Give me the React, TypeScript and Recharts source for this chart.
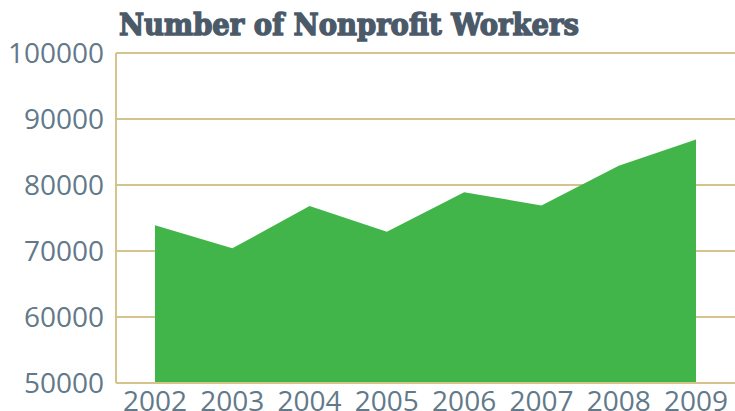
import { AreaChart, Area, XAxis, YAxis, CartesianGrid } from 'recharts';

const years = ['2002', '2003', '2004', '2005', '2006', '2007', '2008', '2009'];
const workers = [73900, 70400, 76800, 72900, 78900, 76900, 82900, 86900];
const yTicks = [50000, 60000, 70000, 80000, 90000, 100000];

const data = years.map((year, i) => ({ year, workers: workers[i] }));

const tickStyle = { fontSize: 28, fill: '#62798a', fontFamily: '"Open Sans", sans-serif' };
const lineColor = '#d4c38b';

export default function App() {
  return (
    <div style={{ position: 'absolute', left: 0, top: 0, width: 735, height: 411, background: '#fff' }}>
      <svg width={735} height={50} style={{ position: 'absolute', left: 0, top: 0 }}>
        {/* heavy slab title: bold serif thickened with a stroke */}
        <text
          x={119}
          y={35}
          fontFamily='"DejaVu Serif", serif'
          fontWeight="bold"
          fontSize={29}
          fill="#4b5a69"
          stroke="#4b5a69"
          strokeWidth={1.4}
          textLength={460}
          lengthAdjust="spacingAndGlyphs"
        >
          Number of Nonprofit Workers
        </text>
      </svg>
      <AreaChart
        width={735}
        height={411}
        data={data}
        margin={{ top: 53, right: 0, left: 0, bottom: 0 }}
      >
        <CartesianGrid vertical={false} stroke={lineColor} strokeWidth={2} />
        <XAxis
          dataKey="year"
          height={28}
          padding={{ left: 39, right: 39 }}
          tick={tickStyle}
          tickLine={false}
          axisLine={{ stroke: lineColor, strokeWidth: 2 }}
          interval={0}
        />
        <YAxis
          width={116}
          domain={[50000, 100000]}
          ticks={yTicks}
          tick={tickStyle}
          tickLine={false}
          tickMargin={6}
          axisLine={{ stroke: lineColor, strokeWidth: 2 }}
        />
        <Area
          type="linear"
          dataKey="workers"
          stroke="none"
          fill="#42b54a"
          fillOpacity={1}
          baseValue={50000}
          isAnimationActive={false}
        />
      </AreaChart>
    </div>
  );
}
